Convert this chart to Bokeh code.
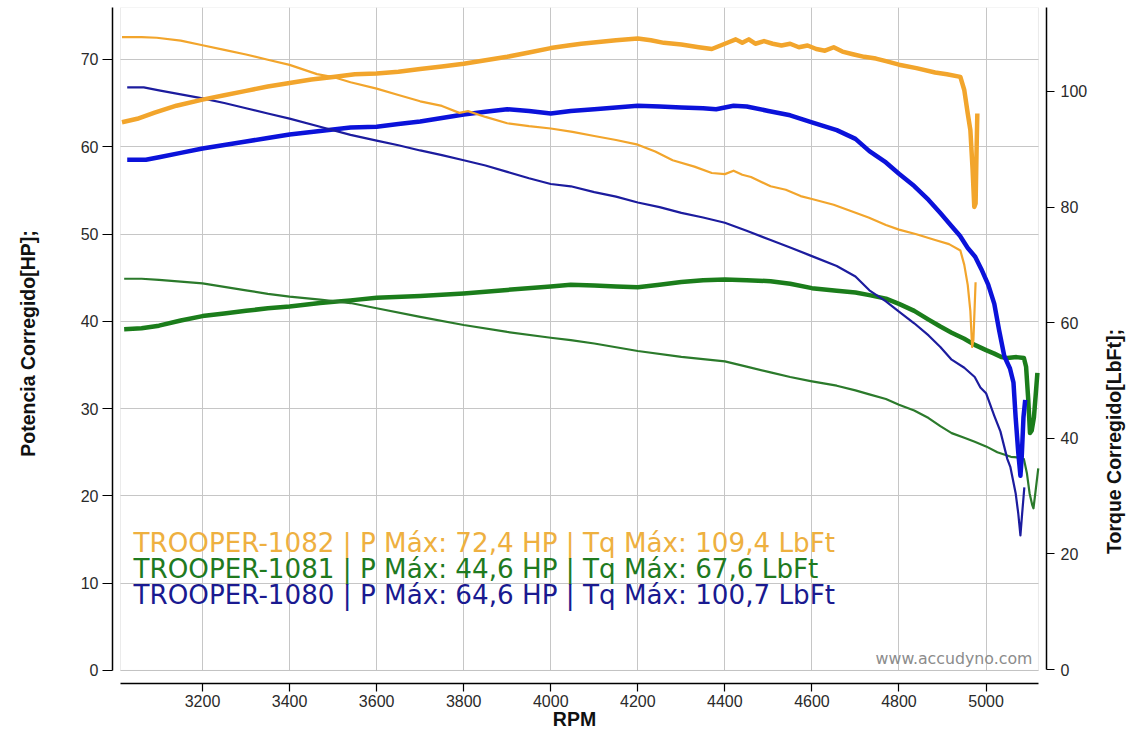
from bokeh.plotting import figure
from bokeh.models import Range1d, LinearAxis, FixedTicker, Label, BoxAnnotation
from bokeh.embed import file_html
from bokeh.resources import INLINE
import math

# ---------------- data ----------------
series_names = ["TROOPER-1082", "TROOPER-1081", "TROOPER-1080"]
p_max = ["72,4", "44,6", "64,6"]
tq_max = ["109,4", "67,6", "100,7"]

rpm_1082_hp = [3015, 3050, 3090, 3140, 3200, 3250, 3300, 3350, 3400, 3450, 3500, 3550, 3600, 3650, 3700,
               3750, 3800, 3850, 3900, 3950, 4000, 4040, 4070, 4110, 4150, 4200, 4230, 4260, 4300, 4340,
               4370, 4390, 4410, 4425, 4440, 4455, 4470, 4490, 4510, 4530, 4550, 4570, 4590, 4610, 4630,
               4650, 4670, 4694, 4720, 4747, 4770, 4800, 4840, 4883, 4910, 4941, 4950, 4958, 4964, 4969,
               4973, 4976, 4978, 4980]
hp_1082 = [62.8, 63.2, 63.9, 64.7, 65.4, 65.9, 66.4, 66.9, 67.3, 67.7, 68.0, 68.3, 68.4, 68.6, 68.9,
           69.2, 69.5, 69.9, 70.3, 70.8, 71.3, 71.6, 71.8, 72.0, 72.2, 72.4, 72.2, 71.9, 71.7, 71.4,
           71.2, 71.6, 72.0, 72.3, 71.9, 72.3, 71.8, 72.1, 71.8, 71.6, 71.8, 71.4, 71.6, 71.2, 71.0,
           71.4, 70.9, 70.6, 70.3, 70.1, 69.8, 69.4, 69.0, 68.5, 68.3, 68.0, 66.5, 63.8, 61.9, 57.5,
           53.1, 53.5, 59.0, 63.8]

rpm_1082_tq = [3015, 3060, 3095, 3150, 3200, 3250, 3300, 3350, 3400, 3463, 3500, 3540, 3600, 3650, 3700,
               3750, 3790, 3810, 3850, 3900, 3950, 4000, 4050, 4100, 4150, 4200, 4240, 4280, 4330, 4370,
               4400, 4420, 4440, 4460, 4505, 4540, 4574, 4600, 4650, 4694, 4730, 4770, 4800, 4840, 4883,
               4915, 4941, 4950, 4958, 4964, 4968, 4971, 4974, 4976]
tq_1082 = [109.4, 109.4, 109.3, 108.8, 108.0, 107.2, 106.4, 105.5, 104.6, 103.0, 102.5, 101.6, 100.5, 99.4, 98.3,
           97.5, 96.3, 96.6, 95.6, 94.5, 94.0, 93.6, 93.0, 92.3, 91.6, 90.8, 89.6, 88.1, 87.0, 85.9,
           85.7, 86.3, 85.6, 85.2, 83.6, 83.0, 81.9, 81.4, 80.4, 79.2, 78.2, 76.9, 76.1, 75.3, 74.3,
           73.6, 72.5, 70.0, 66.5, 62.0, 55.8, 57.0, 63.0, 67.0]

rpm_1080_hp = [3027, 3070, 3100, 3150, 3200, 3250, 3300, 3350, 3400, 3470, 3540, 3600, 3650, 3700, 3750,
               3800, 3850, 3900, 3950, 4000, 4046, 4100, 4150, 4200, 4250, 4300, 4350, 4380, 4400, 4420,
               4450, 4500, 4550, 4600, 4657, 4700, 4732, 4770, 4800, 4835, 4868, 4895, 4921, 4940, 4958,
               4975, 4989, 5005, 5019, 5030, 5042, 5055, 5063, 5068, 5074, 5079, 5082, 5086, 5090]
hp_1080 = [58.5, 58.5, 58.8, 59.3, 59.8, 60.2, 60.6, 61.0, 61.4, 61.8, 62.2, 62.3, 62.6, 62.9, 63.3,
           63.7, 64.0, 64.3, 64.1, 63.8, 64.1, 64.3, 64.5, 64.7, 64.6, 64.5, 64.4, 64.3, 64.5, 64.7,
           64.6, 64.1, 63.6, 62.8, 61.9, 60.9, 59.5, 58.2, 56.9, 55.5, 53.9, 52.4, 50.9, 49.8, 48.4,
           47.4, 46.0, 44.2, 42.0, 39.0, 36.0, 34.6, 33.0, 29.0, 25.0, 22.3, 24.5, 29.0, 31.0]

rpm_1080_tq = [3027, 3065, 3100, 3150, 3200, 3250, 3300, 3350, 3400, 3470, 3540, 3600, 3650, 3700, 3750,
               3800, 3850, 3900, 3950, 4000, 4046, 4100, 4150, 4200, 4250, 4300, 4350, 4400, 4450, 4505,
               4550, 4597, 4657, 4700, 4732, 4770, 4800, 4835, 4868, 4895, 4921, 4950, 4974, 4987, 5000,
               5019, 5033, 5049, 5056, 5068, 5074, 5079, 5083, 5088]
tq_1080 = [100.7, 100.7, 100.2, 99.5, 98.8, 98.0, 97.1, 96.2, 95.3, 93.9, 92.5, 91.5, 90.7, 89.8, 89.0,
           88.1, 87.2, 86.1, 85.0, 84.0, 83.6, 82.6, 81.8, 80.8, 80.0, 79.0, 78.2, 77.3, 75.9, 74.3,
           73.0, 71.6, 69.8, 68.0, 65.6, 63.7, 61.9, 59.9, 57.8, 55.8, 53.6, 52.2, 50.6, 48.8, 47.8,
           43.9, 41.2, 36.4, 35.0, 30.5, 27.0, 23.2, 27.0, 31.5]

rpm_1081_hp = [3020, 3060, 3100, 3150, 3200, 3250, 3300, 3350, 3400, 3470, 3540, 3600, 3700, 3800, 3900,
               4000, 4046, 4100, 4150, 4200, 4250, 4300, 4350, 4400, 4450, 4505, 4550, 4600, 4657, 4700,
               4732, 4770, 4800, 4835, 4868, 4895, 4921, 4950, 4974, 5000, 5019, 5035, 5049, 5070, 5087,
               5092, 5097, 5101, 5105, 5110, 5114, 5118]
hp_1081 = [39.1, 39.2, 39.5, 40.1, 40.6, 40.9, 41.2, 41.5, 41.7, 42.1, 42.4, 42.7, 42.9, 43.2, 43.6,
           44.0, 44.2, 44.1, 44.0, 43.9, 44.2, 44.5, 44.7, 44.8, 44.7, 44.6, 44.3, 43.8, 43.5, 43.3,
           43.0, 42.6, 42.0, 41.2, 40.2, 39.4, 38.7, 38.0, 37.3, 36.7, 36.3, 35.9, 35.8, 35.9, 35.8,
           34.8, 31.0, 27.2, 27.5, 29.0, 31.5, 34.1]

rpm_1081_tq = [3020, 3060, 3100, 3150, 3200, 3250, 3300, 3350, 3400, 3470, 3540, 3600, 3700, 3800, 3900,
               4000, 4046, 4100, 4200, 4300, 4400, 4450, 4505, 4550, 4597, 4657, 4700, 4732, 4770, 4800,
               4835, 4868, 4895, 4921, 4950, 4974, 5000, 5026, 5057, 5072, 5087, 5094, 5100, 5106, 5109,
               5114, 5120]
tq_1081 = [67.6, 67.6, 67.4, 67.1, 66.8, 66.2, 65.6, 65.0, 64.5, 64.0, 63.4, 62.5, 61.0, 59.6, 58.4,
           57.4, 57.0, 56.4, 55.1, 54.1, 53.3, 52.4, 51.4, 50.6, 49.9, 49.1, 48.3, 47.6, 46.8, 45.8,
           44.8, 43.5, 42.1, 40.9, 40.1, 39.4, 38.6, 37.6, 36.8, 36.7, 36.4, 33.9, 30.5, 28.5, 27.9,
           31.0, 34.8]

x_ticks = [3200, 3400, 3600, 3800, 4000, 4200, 4400, 4600, 4800, 5000]
hp_ticks = [0, 10, 20, 30, 40, 50, 60, 70]
tq_ticks = [0, 20, 40, 60, 80, 100]

# ---------------- styling / layout ----------------
X_START, X_END = 2993.2, 5138.9
X_IN_L, X_IN_R = 3011.6, 5120.5
HP_BOTTOM, HP_TOP = -1.49, 75.95
TQ_BOTTOM, TQ_TOP = -2.42, 114.53

ORANGE = "#F2A52C"
GREEN_THICK = "#1B7D1B"
GREEN_THIN = "#2B7A2B"
BLUE_THICK = "#0B12DA"
BLUE_THIN = "#1C1C9E"
LEG_COLORS = ["#EEB040", "#1F7A1F", "#1A1A90"]

TICK_FONT = "Liberation Sans"
TITLE_FONT = "Liberation Sans"

p = figure(width=1128, height=728,
           x_range=Range1d(X_START, X_END), y_range=Range1d(HP_BOTTOM, HP_TOP),
           output_backend="svg", toolbar_location=None,
           min_border_left=112, min_border_right=82, min_border_top=7, min_border_bottom=45)
p.extra_y_ranges = {"torque": Range1d(TQ_BOTTOM, TQ_TOP)}
p.outline_line_color = None
p.background_fill_color = "white"
p.border_fill_color = "white"

xt = FixedTicker(ticks=x_ticks)
yt = FixedTicker(ticks=hp_ticks)
tt = FixedTicker(ticks=tq_ticks)

xa = p.xaxis[0]
xa.ticker = xt
xa.bounds = (X_IN_L, X_IN_R)
xa.major_tick_out = 8
xa.major_label_standoff = 3

ya = p.yaxis[0]
ya.ticker = yt
ya.bounds = (0, HP_TOP)
ya.major_tick_out = 10
ya.major_label_standoff = 4

ra = LinearAxis(y_range_name="torque", ticker=tt, bounds=(0, TQ_TOP))
ra.major_tick_out = 8
ra.major_label_standoff = 6
p.add_layout(ra, "right")

for ax in (xa, ya, ra):
    ax.axis_line_color = "black"
    ax.axis_line_width = 1.5
    ax.major_tick_line_color = "black"
    ax.major_tick_line_width = 1.2
    ax.major_tick_in = 0
    ax.minor_tick_line_color = None
    ax.major_label_text_font = TICK_FONT
    ax.major_label_text_font_size = "16px"
    ax.major_label_text_color = "#2a2a2a"

gx = p.xgrid[0]
gx.ticker = xt
gy = p.ygrid[0]
gy.ticker = yt
for g in (gx, gy):
    g.grid_line_color = "#c6c6c6"
    g.grid_line_width = 1
try:
    gx.cross_bounds = (0, HP_TOP)
    gy.cross_bounds = (X_IN_L, X_IN_R)
except Exception:
    pass

frame_box = BoxAnnotation(left=X_IN_L, right=X_IN_R, bottom=0, top=HP_TOP,
                          fill_color=None, line_color="#bdbdbd", line_width=1, level="underlay")
p.add_layout(frame_box)

# ---------------- curves ----------------
p.line(rpm_1081_hp, hp_1081, line_color=GREEN_THICK, line_width=4.5, line_join="round")
p.line(rpm_1081_tq, tq_1081, y_range_name="torque", line_color=GREEN_THIN, line_width=2.2, line_join="round")
p.line(rpm_1080_hp, hp_1080, line_color=BLUE_THICK, line_width=4.5, line_join="round")
p.line(rpm_1080_tq, tq_1080, y_range_name="torque", line_color=BLUE_THIN, line_width=2.2, line_join="round")
p.line(rpm_1082_hp, hp_1082, line_color=ORANGE, line_width=4.5, line_join="round")
p.line(rpm_1082_tq, tq_1082, y_range_name="torque", line_color=ORANGE, line_width=2.2, line_join="round")

# ---------------- texts ----------------
LEG_X = 21
LEG_Y = [141, 115, 89]
for name, pm, tm, col, yy in zip(series_names, p_max, tq_max, LEG_COLORS, LEG_Y):
    p.add_layout(Label(x=LEG_X, y=yy, x_units="screen", y_units="screen",
                       text=f"{name} | P Máx: {pm} HP | Tq Máx: {tm} LbFt",
                       text_font="DejaVu Sans", text_font_size="26.2px", text_color=col,
                       text_baseline="alphabetic", text_align="left"))

p.add_layout(Label(x=920, y=25, x_units="screen", y_units="screen", text="www.accudyno.com",
                   text_font="DejaVu Sans", text_font_size="15.8px", text_color="#8c8c8c",
                   text_align="right", text_baseline="alphabetic"))

# titles placed in the side panels (outside the frame, not clipped)
title_kw = dict(x_units="screen", y_units="screen", text_font=TITLE_FONT, text_font_style="bold",
                text_font_size="19.5px", text_color="#111111",
                text_align="center", text_baseline="middle")

right_title = Label(x=23, y=242, text="Torque Corregido[LbFt];", angle=math.pi / 2, **title_kw)
p.right = list(p.right) + [right_title]

left_title = Label(x=-27.5, y=340, text="Potencia Corregido[HP];", angle=math.pi / 2, **title_kw)
rpm_title = Label(x=562, y=-35, text="RPM", **title_kw)
p.left = list(p.left) + [left_title, rpm_title]

open("out.html", "w").write(file_html(p, INLINE))
